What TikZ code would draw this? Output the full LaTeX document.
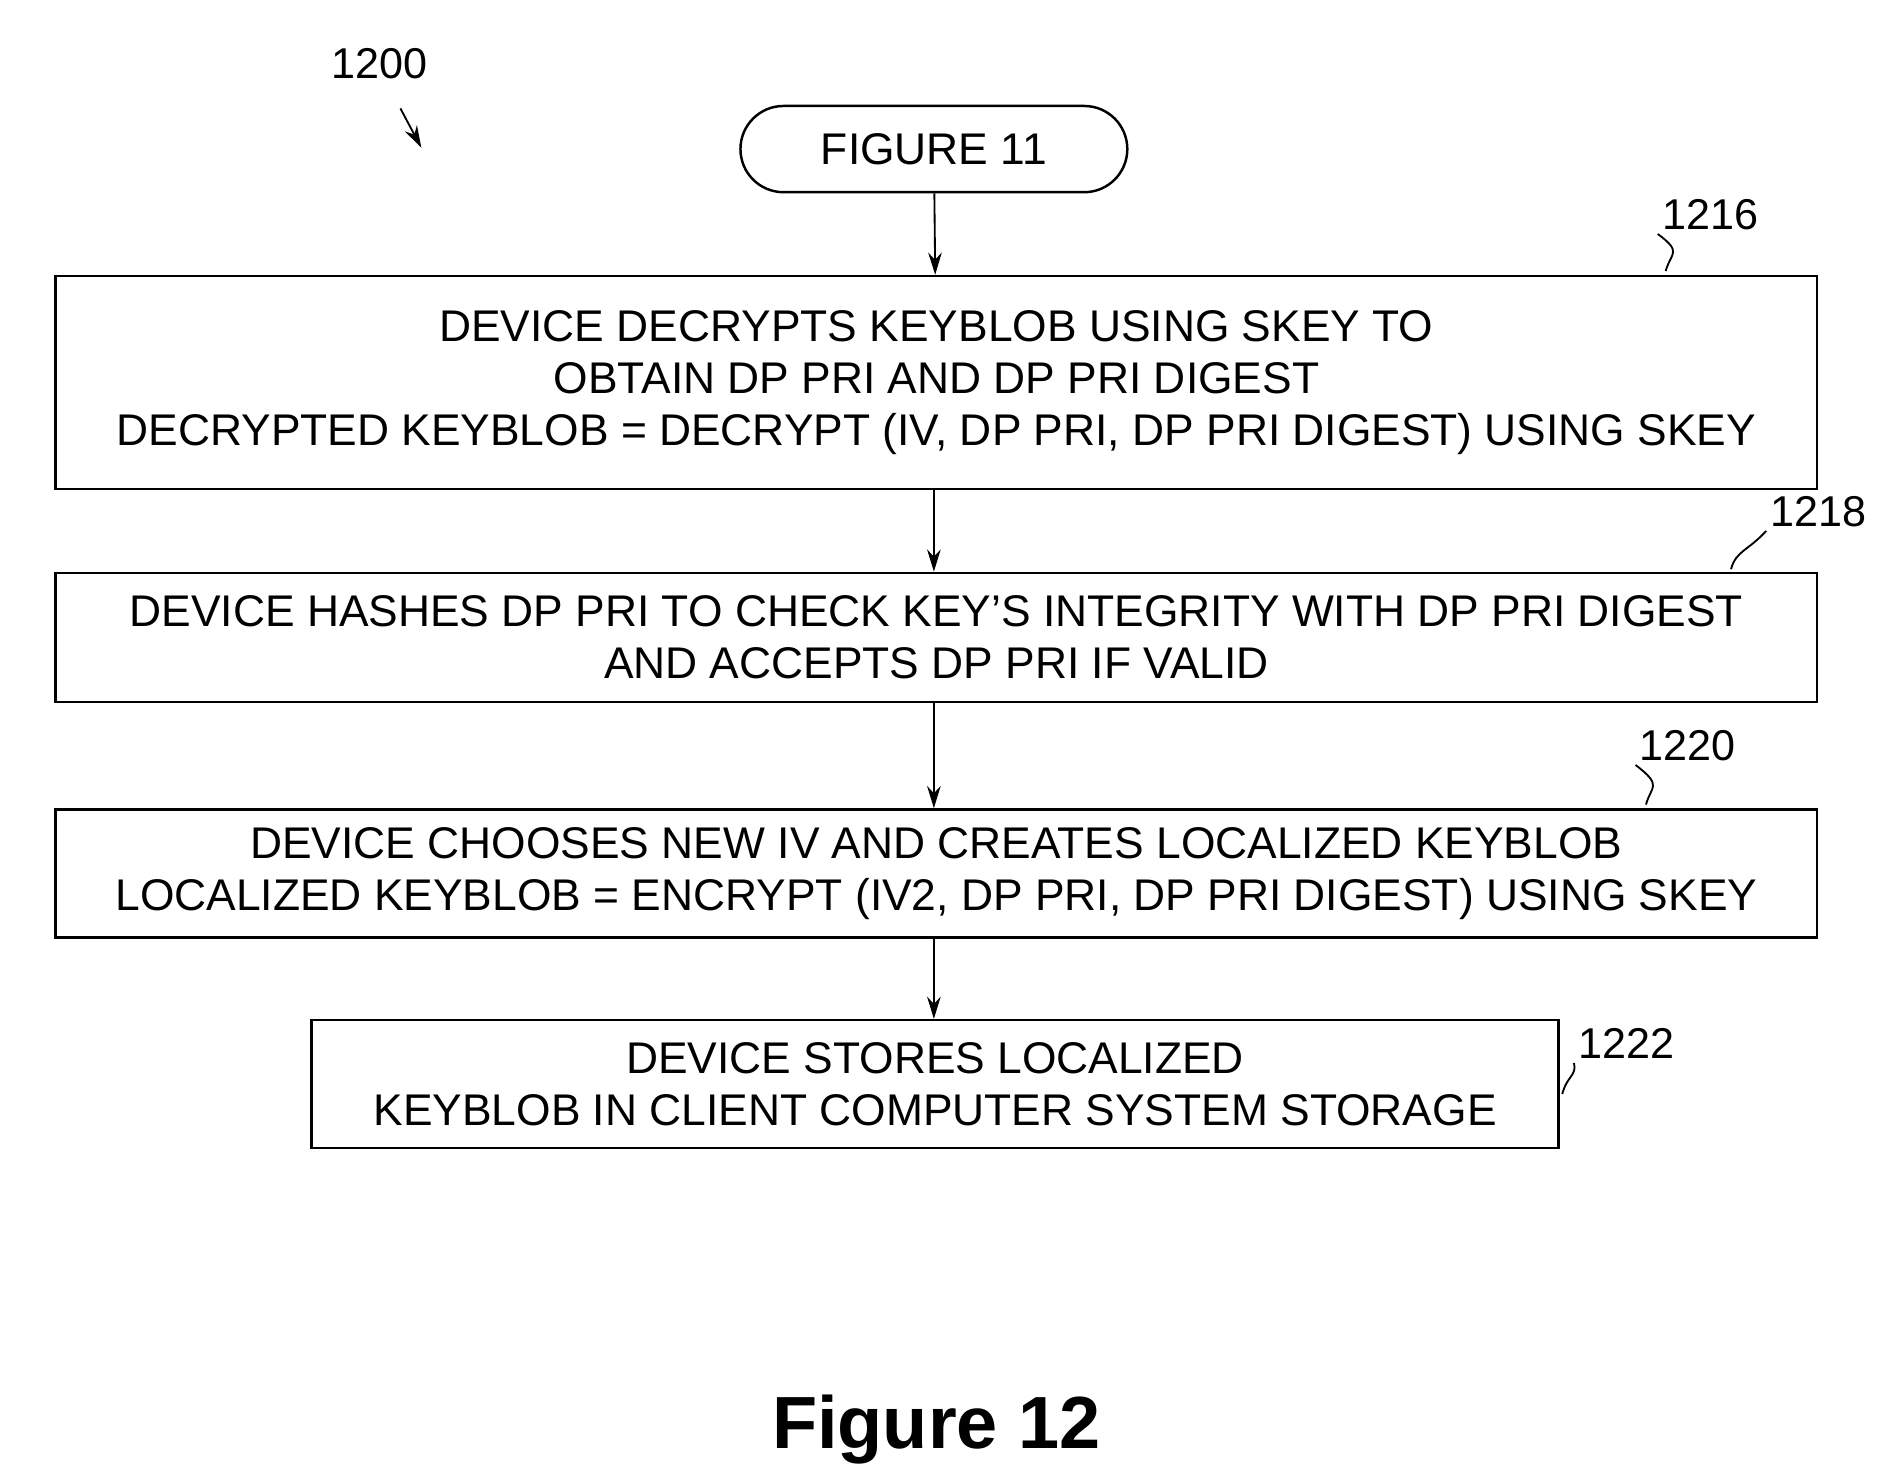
\documentclass[tikz,border=0pt]{standalone}
\usepackage{fontspec}
\setmainfont{Liberation Sans}
\usetikzlibrary{arrows.meta}
\tikzset{
  proc/.style={draw, line width=2pt, align=center, inner sep=0pt,
    font=\fontsize{36}{42}\selectfont},
  term/.style={proc, rounded corners=35pt},
  ref/.style={font=\fontsize{35}{40}\selectfont},
  flow/.style={-{Stealth[length=18pt,width=11pt]}, line width=1.5pt},
  tick/.style={line width=1.5pt}
}
\begin{document}
\begin{tikzpicture}[x=1pt, y=-1pt]
    \useasboundingbox (0,0) rectangle (1530,1194);

    \node[ref] (n1200) at (308,52) {1200};
    \coordinate (a1200) at (325,88);
    \coordinate (b1200) at (342,120);
    \draw[flow] (a1200) -- (b1200);

    \node[term, minimum width=314pt, minimum height=70pt] (fig11) at (758,121) {FIGURE 11};

    % process boxes
    \node[proc, minimum width=1430pt, minimum height=173pt] (s1216) at (760,310.5)
      {DEVICE DECRYPTS KEYBLOB USING SKEY TO\\OBTAIN DP PRI AND DP PRI DIGEST\\DECRYPTED KEYBLOB = DECRYPT (IV, DP PRI, DP PRI DIGEST) USING SKEY};
    \node[proc, minimum width=1430pt, minimum height=105pt] (s1218) at (760,517.5)
      {DEVICE HASHES DP PRI TO CHECK KEY'S INTEGRITY WITH DP PRI DIGEST\\AND ACCEPTS DP PRI IF VALID};
    \node[proc, minimum width=1430pt, minimum height=104pt] (s1220) at (760,709)
      {DEVICE CHOOSES NEW IV AND CREATES LOCALIZED KEYBLOB\\LOCALIZED KEYBLOB = ENCRYPT (IV2, DP PRI, DP PRI DIGEST) USING SKEY};
    \node[proc, minimum width=1012pt, minimum height=104pt] (s1222) at (759,880)
      {DEVICE STORES LOCALIZED\\KEYBLOB IN CLIENT COMPUTER SYSTEM STORAGE};

    \draw[flow] (fig11) -- (s1216);
    \draw[flow] (s1216.south -| fig11) -- (s1218.north -| fig11);
    \draw[flow] (s1218.south -| fig11) -- (s1220.north -| fig11);
    \draw[flow] (s1220.south -| fig11) -- (s1222.north -| fig11);

    % reference numerals
    \node[ref] (n1216) at (1388,174) {1216};
    \node[ref] (n1218) at (1476,415) {1218};
    \node[ref] (n1220) at (1370,605) {1220};
    \node[ref] (n1222) at (1320,847) {1222};
    \draw[tick] (1352,220) .. controls (1356,205) and (1366,205) .. (n1216.south west);
    \draw[tick] (1405,462) .. controls (1409,447) and (1419,447) .. (n1218.south west);
    \draw[tick] (1336,653) .. controls (1340,638) and (1350,638) .. (n1220.south west);
    \draw[tick] (1268,888) .. controls (1272,873) and (1280,873) .. (n1222.south west);

    \node[font=\bfseries\fontsize{60}{70}\selectfont] (cap) at (760,1160) {Figure 12};
\end{tikzpicture}
\end{document}
